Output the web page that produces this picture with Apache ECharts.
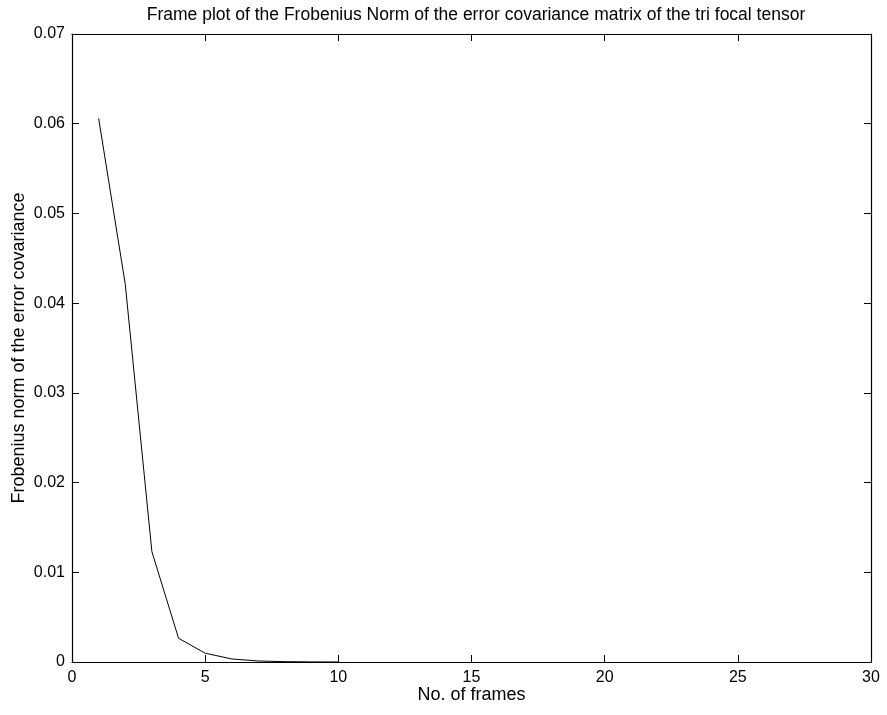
<!DOCTYPE html>
<html>
<head>
<meta charset="utf-8">
<script src="https://cdn.jsdelivr.net/npm/echarts@6/dist/echarts.min.js"></script>
<style>
  html, body { margin: 0; padding: 0; background: #fff; }
  #chart { width: 887px; height: 715px; }
</style>
</head>
<body>
<div id="chart"></div>
<script>
// frame number vs Frobenius norm
var frames = [1, 2, 3, 4, 5, 6, 7, 8, 9, 10];
var normValues = [0.0606, 0.0421, 0.0123, 0.00265, 0.00098, 0.00034, 0.00011, 0.00004, 0.00001, 0.000005];

var fontFam = 'Liberation Sans, Arial, Helvetica, sans-serif';
var data = frames.map(function (f, i) { return [f, normValues[i]]; });

var chart = echarts.init(document.getElementById('chart'));
var tickIn = { show: true, inside: true, length: 7, lineStyle: { color: '#000', width: 1 } };
var axLine = { show: true, onZero: false, lineStyle: { color: '#000', width: 1.2 } };

chart.setOption({
  animation: false,
  title: {
    text: 'Frame plot of the Frobenius Norm of the error covariance matrix of the tri focal tensor',
    left: 471, top: 1, textAlign: 'center',
    textStyle: { fontFamily: fontFam, fontSize: 17.5, fontWeight: 'normal', color: '#000' }
  },
  grid: { left: 72, right: 16, top: 34, bottom: 53, containLabel: false, outerBoundsMode: 'none' },
  xAxis: [{
    type: 'value', min: 0, max: 30, interval: 5,
    name: 'No. of frames', nameLocation: 'middle', nameGap: 24, nameMoveOverlap: false,
    nameTextStyle: { fontFamily: fontFam, fontSize: 18, color: '#000' },
    axisLine: axLine, axisTick: tickIn, splitLine: { show: false },
    axisLabel: { fontFamily: fontFam, fontSize: 16, color: '#000', margin: 8 }
  }, {
    type: 'value', min: 0, max: 30, interval: 5, position: 'top',
    axisLine: axLine, axisTick: tickIn, splitLine: { show: false },
    axisLabel: { show: false }
  }],
  yAxis: [{
    type: 'value', min: 0, max: 0.07, interval: 0.01,
    name: 'Frobenius norm of the error covariance', nameLocation: 'middle', nameGap: 44, nameMoveOverlap: false,
    nameTextStyle: { fontFamily: fontFam, fontSize: 18, color: '#000' },
    axisLine: axLine, axisTick: tickIn, splitLine: { show: false },
    axisLabel: {
      fontFamily: fontFam, fontSize: 16, color: '#000', margin: 7,
      formatter: function (v) { return v === 0 ? '0' : v.toFixed(2); }
    }
  }, {
    type: 'value', min: 0, max: 0.07, interval: 0.01, position: 'right',
    axisLine: axLine, axisTick: tickIn, splitLine: { show: false },
    axisLabel: { show: false }
  }],
  series: [{
    type: 'line', data: data, showSymbol: false, symbol: 'none',
    lineStyle: { color: '#000', width: 1 }
  }]
});
</script>
</body>
</html>
